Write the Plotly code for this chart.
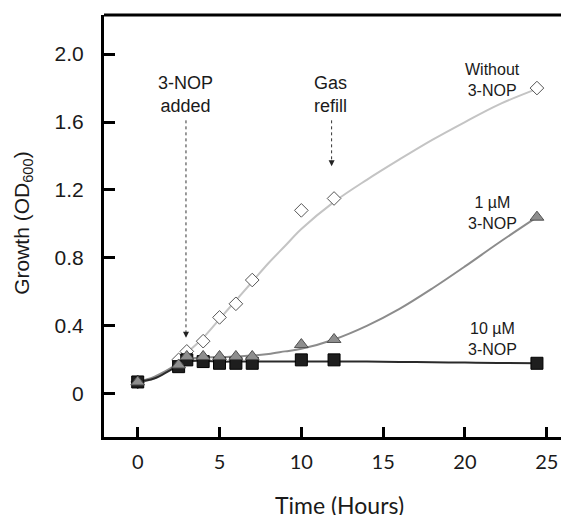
import plotly.graph_objects as go

# ---- data ----
time_h = [0, 2.5, 3, 4, 5, 6, 7, 10, 12, 24.4]
od_without = [0.07, 0.20, 0.25, 0.31, 0.45, 0.53, 0.67, 1.08, 1.15, 1.80]
od_1uM = [0.07, 0.17, 0.22, 0.22, 0.22, 0.22, 0.22, 0.29, 0.32, 1.04]
od_10uM = [0.07, 0.16, 0.20, 0.19, 0.18, 0.18, 0.18, 0.20, 0.20, 0.18]

# fitted curves as drawn in the reference
fit_t = [0, 1, 2, 3, 4, 5, 6, 7, 8, 9, 10, 12, 14, 16, 18, 20, 22, 24.4]
fit_without = [0.07, 0.09, 0.15, 0.24, 0.33, 0.44, 0.55, 0.66, 0.77, 0.87, 0.97, 1.13,
               1.26, 1.38, 1.495, 1.60, 1.70, 1.795]
fit_1uM = [0.07, 0.10, 0.15, 0.20, 0.215, 0.215, 0.22, 0.225, 0.235, 0.25, 0.265, 0.32,
           0.40, 0.50, 0.62, 0.75, 0.885, 1.04]
fit_10uM = [0.07, 0.09, 0.14, 0.19, 0.195, 0.19, 0.19, 0.19, 0.19, 0.19, 0.19, 0.19,
            0.19, 0.188, 0.186, 0.184, 0.182, 0.18]

x_ticks = [0, 5, 10, 15, 20, 25]
y_ticks = [0, 0.4, 0.8, 1.2, 1.6, 2.0]
y_ticktext = ["0", "0.4", "0.8", "1.2", "1.6", "2.0"]

ARIAL = "Liberation Sans, Arial, sans-serif"
CALIBRI = "Lato, Carlito, Calibri, sans-serif"

fig = go.Figure()

# fit lines
for fy, col in [(fit_without, "#c4c4c4"), (fit_1uM, "#8c8c8c"), (fit_10uM, "#2a2a2a")]:
    fig.add_trace(go.Scatter(x=fit_t, y=fy, mode="lines", line_shape="spline",
                             line=dict(color=col, width=2, smoothing=1.0),
                             showlegend=False, hoverinfo="skip"))

# markers
fig.add_trace(go.Scatter(
    x=time_h, y=od_without, mode="markers",
    marker=dict(symbol="diamond", size=10.5, color="white",
                line=dict(color="#555555", width=1)),
    name="Without 3-NOP", showlegend=False))
fig.add_trace(go.Scatter(
    x=time_h, y=od_10uM, mode="markers",
    marker=dict(symbol="square", size=12, color="#1e1e1e",
                line=dict(color="#000000", width=1)),
    name="10 µM 3-NOP", showlegend=False))
fig.add_trace(go.Scatter(
    x=time_h, y=od_1uM, mode="markers",
    marker=dict(symbol="triangle-up", size=12, color="#8e8e8e",
                line=dict(color="#505050", width=1)),
    name="1 µM 3-NOP", showlegend=False))

# dotted arrows
for ax_x, y_top, y_tip in [(2.95, 1.61, 0.33), (11.85, 1.61, 1.34)]:
    fig.add_shape(type="line", x0=ax_x, x1=ax_x, y0=y_top, y1=y_tip + 0.03,
                  xref="x", yref="y", line=dict(color="#333333", width=1, dash="dot"))
    fig.add_annotation(x=ax_x, y=y_tip, xref="x", yref="y", text="",
                       showarrow=True, ax=0, ay=-7, arrowhead=2, arrowsize=1.2,
                       arrowwidth=1, arrowcolor="#222222", standoff=0)

ann_font = dict(family=ARIAL, size=18, color="#1a1a1a")
lab_font = dict(family=ARIAL, size=16, color="#1a1a1a")
fig.add_annotation(x=2.9, y=1.76, xref="x", yref="y", text="3-NOP<br>added",
                   showarrow=False, font=ann_font)
fig.add_annotation(x=11.8, y=1.76, xref="x", yref="y", text="Gas<br>refill",
                   showarrow=False, font=ann_font)
fig.add_annotation(x=21.7, y=1.85, xref="x", yref="y", text="Without<br>3-NOP",
                   showarrow=False, font=lab_font)
fig.add_annotation(x=21.7, y=1.066, xref="x", yref="y", text="1 µM<br>3-NOP",
                   showarrow=False, font=lab_font)
fig.add_annotation(x=21.7, y=0.323, xref="x", yref="y", text="10 µM<br>3-NOP",
                   showarrow=False, font=lab_font)

# axis titles
fig.add_annotation(x=-0.179, y=0.508, xref="paper", yref="paper",
                   text="Growth (OD<sub>600</sub>)", textangle=-90, showarrow=False,
                   xanchor="center", yanchor="middle",
                   font=dict(family=ARIAL, size=21, color="#1a1a1a"))
fig.add_annotation(x=0.516, y=-0.162, xref="paper", yref="paper",
                   text="Time (Hours)", showarrow=False,
                   xanchor="center", yanchor="middle",
                   font=dict(family=CALIBRI, size=23, color="#1a1a1a"))

# top frame line
fig.add_shape(type="line", x0=0, x1=1, y0=1, y1=1, xref="paper", yref="paper",
              line=dict(color="black", width=3))

fig.update_xaxes(range=[-2.06, 25.87], tickvals=x_ticks, ticks="inside", ticklen=10,
                 tickwidth=3, tickcolor="black", showline=True, linecolor="black",
                 linewidth=3, showgrid=False, zeroline=False,
                 tickfont=dict(family=CALIBRI, size=20, color="#1a1a1a"),
                 ticklabelstandoff=5)
fig.update_yaxes(range=[-0.254, 2.23], tickvals=y_ticks, ticktext=y_ticktext,
                 ticks="inside", ticklen=11, tickwidth=3, tickcolor="black",
                 showline=True, linecolor="black", linewidth=3, showgrid=False,
                 zeroline=False, tickfont=dict(family=ARIAL, size=21, color="#1a1a1a"),
                 ticklabelstandoff=13)

fig.update_layout(width=561, height=515, margin=dict(l=104, r=0, t=15, b=78),
                  plot_bgcolor="white", paper_bgcolor="white")

fig.write_html("out.html", config={"displayModeBar": False},
               post_script="document.body.style.margin='0';document.body.style.overflow='hidden';")
